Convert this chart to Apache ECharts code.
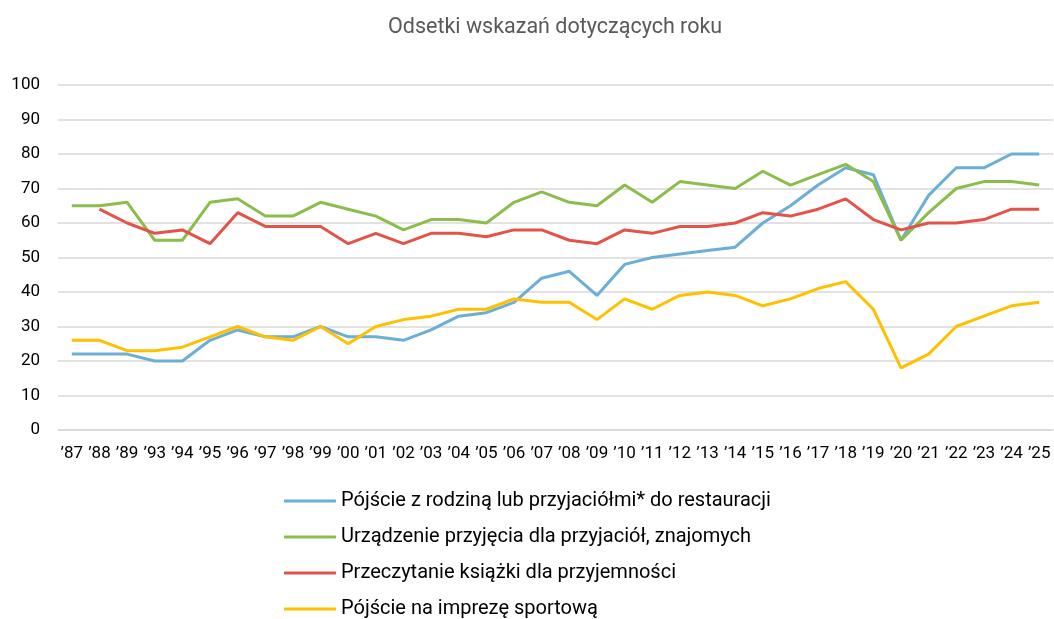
<!DOCTYPE html>
<html>
<head>
<meta charset="utf-8">
<script src="https://cdn.jsdelivr.net/npm/echarts@6/dist/echarts.min.js"></script>
<style>
  html, body { margin: 0; padding: 0; background: #fff; }
  #chart { width: 1054px; height: 619px; }
</style>
</head>
<body>
<div id="chart"></div>
<script>
var years = ["’87", "’88", "’89", "’93", "’94", "’95", "’96", "’97", "’98", "’99",
  "’00", "’01", "’02", "’03", "’04", "’05", "’06", "’07", "’08", "’09",
  "’10", "’11", "’12", "’13", "’14", "’15", "’16", "’17", "’18", "’19",
  "’20", "’21", "’22", "’23", "’24", "’25"];

var restauracja = [22, 22, 22, 20, 20, 26, 29, 27, 27, 30, 27, 27, 26, 29, 33, 34, 37, 44, 46, 39,
  48, 50, 51, 52, 53, 60, 65, 71, 76, 74, 55, 68, 76, 76, 80, 80];
var przyjecie = [65, 65, 66, 55, 55, 66, 67, 62, 62, 66, 64, 62, 58, 61, 61, 60, 66, 69, 66, 65,
  71, 66, 72, 71, 70, 75, 71, 74, 77, 72, 55, 63, 70, 72, 72, 71];
var ksiazka = [null, 64, 60, 57, 58, 54, 63, 59, 59, 59, 54, 57, 54, 57, 57, 56, 58, 58, 55, 54,
  58, 57, 59, 59, 60, 63, 62, 64, 67, 61, 58, 60, 60, 61, 64, 64];
var sport = [26, 26, 23, 23, 24, 27, 30, 27, 26, 30, 25, 30, 32, 33, 35, 35, 38, 37, 37, 32,
  38, 35, 39, 40, 39, 36, 38, 41, 43, 35, 18, 22, 30, 33, 36, 37];

var names = [
  'Pójście z rodziną lub przyjaciółmi* do restauracji',
  'Urządzenie przyjęcia dla przyjaciół, znajomych',
  'Przeczytanie książki dla przyjemności',
  'Pójście na imprezę sportową'
];
var colors = ['#6baed6', '#8cbd4b', '#e4534a', '#ffc000'];

var chart = echarts.init(document.getElementById('chart'));

function line(name, data, color) {
  return {
    name: name,
    type: 'line',
    data: data,
    symbol: 'none',
    connectNulls: false,
    lineStyle: { width: 3, color: color },
    itemStyle: { color: color }
  };
}

var option = {
  animation: false,
  textStyle: { fontFamily: 'Roboto' },
  title: {
    text: 'Odsetki wskazań dotyczących roku',
    left: 383,
    top: 12,
    textStyle: { fontSize: 21.5, fontWeight: 'normal', color: '#595959', fontFamily: 'Roboto' }
  },
  legend: {
    orient: 'vertical',
    left: 284,
    top: 491,
    height: 128,
    padding: 0,
    itemWidth: 52,
    itemHeight: 3,
    itemGap: 16,
    icon: 'roundRect',
    data: names,
    textStyle: { fontSize: 20, color: '#000', padding: [0, 0, 0, 0] }
  },
  grid: { left: 58, right: 1, top: 85, bottom: 189, containLabel: false },
  xAxis: {
    type: 'category',
    data: years,
    boundaryGap: true,
    axisLine: { show: true, lineStyle: { color: '#d9d9d9', width: 1.5 } },
    axisTick: { show: false },
    axisLabel: { interval: 0, fontSize: 17, color: '#000', margin: 15 }
  },
  yAxis: {
    type: 'value',
    min: 0,
    max: 100,
    interval: 10,
    axisLine: { show: false },
    axisTick: { show: false },
    axisLabel: { fontSize: 17, color: '#000', margin: 18 },
    splitLine: { lineStyle: { color: '#d9d9d9', width: 1.5 } }
  },
  series: [
    line(names[0], restauracja, colors[0]),
    line(names[1], przyjecie, colors[1]),
    line(names[2], ksiazka, colors[2]),
    line(names[3], sport, colors[3])
  ]
};

chart.setOption(option);
</script>
</body>
</html>
